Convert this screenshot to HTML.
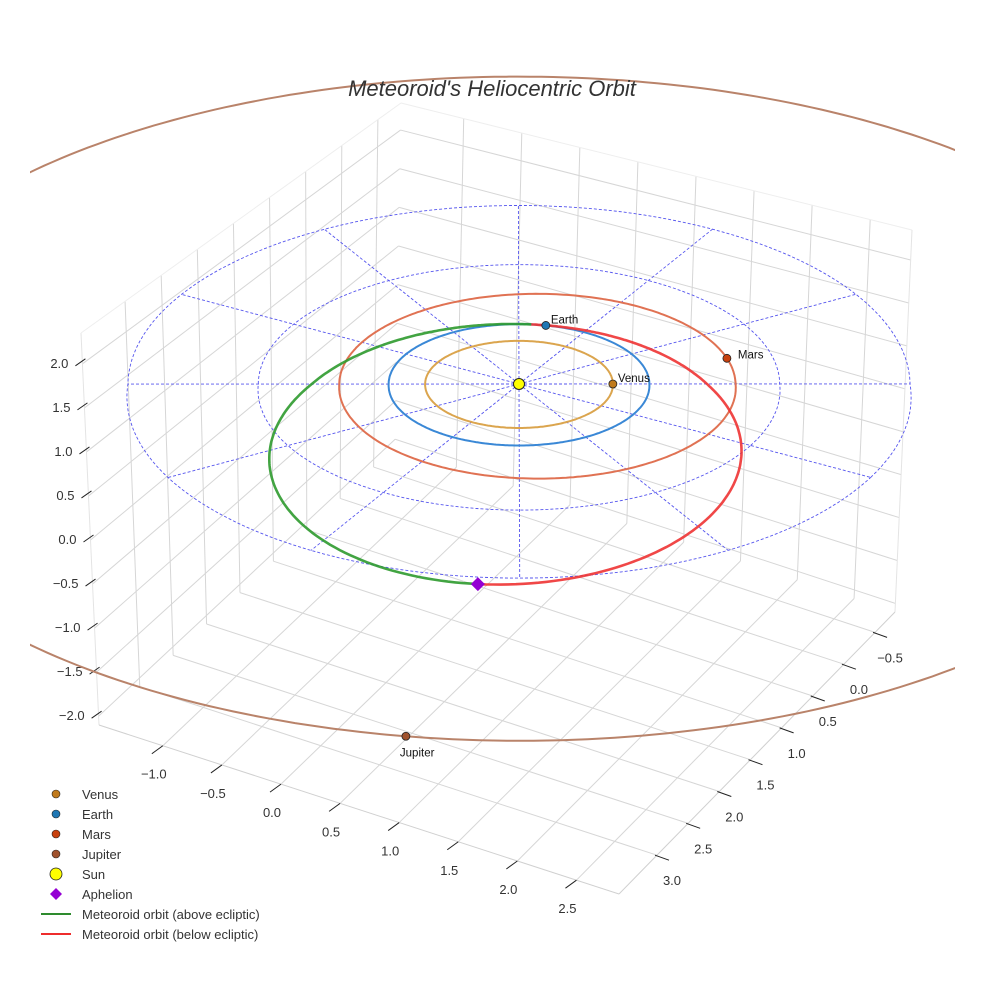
<!DOCTYPE html>
<html><head><meta charset="utf-8">
<style>
html,body{margin:0;padding:0;background:#fff;}
svg{display:block;font-family:"Liberation Sans",sans-serif;}
</style></head>
<body>
<svg id="chart" width="984" height="984" viewBox="0 0 984 984" xmlns="http://www.w3.org/2000/svg">
<defs><clipPath id="clipAx"><rect x="30" y="0" width="925" height="984"/></clipPath></defs>
<g id="box"></g>
<g id="plane" clip-path="url(#clipAx)"></g>
<text x="492" y="96" text-anchor="middle" font-size="22" font-style="italic" fill="#333">Meteoroid's Heliocentric Orbit</text>
<g id="legend"></g>
</svg>
<script>
// ---- data ----
const xTicks = [-1.0, -0.5, 0.0, 0.5, 1.0, 1.5, 2.0, 2.5];
const yTicks = [-0.5, 0.0, 0.5, 1.0, 1.5, 2.0, 2.5, 3.0];
const zTicks = [-2.0, -1.5, -1.0, -0.5, 0.0, 0.5, 1.0, 1.5, 2.0];
const xRange = [-1.54, 2.86];
const yRange = [-0.82, 3.61];
const zRange = [-2.1, 2.35];
const planetNames = ["Venus", "Earth", "Mars", "Jupiter"];
const planetRadii = [0.72, 1.0, 1.52, 5.2];
const planetEcc = [0.0, 0.0, 0.093, 0.0];
const planetPeri = [0, 0, 208, 0];
const planetAngles = [30, 108, 45, -68.5];
const gridRadii = [1, 2, 3];
const gridSpokes = [0, 30, 60, 90, 120, 150, 180, 210, 240, 270, 300, 330];
const meteorPerihelion = [1.0];
const meteorAphelion = [3.1];
const meteorOmega = [114.5];

const NS = "http://www.w3.org/2000/svg";
function mk(tag, attrs, parent){const e=document.createElementNS(NS,tag);for(const k in attrs)e.setAttribute(k,attrs[k]);parent.appendChild(e);return e;}

// ---- box (trilinear through measured corners) ----
const C = {
 "000":[395,447],"001":[401,103],"010":[99,725],"011":[81,333],
 "100":[895,612],"101":[912,230],"110":[619,894],"111":[619,500]};
function tri(u,v,w){let X=0,Y=0;for(const a of [0,1])for(const b of [0,1])for(const c of [0,1]){const wt=(a?u:1-u)*(b?v:1-v)*(c?w:1-w);const p=C[""+a+b+c];X+=wt*p[0];Y+=wt*p[1];}return [X,Y];}
const U=x=>(x-xRange[0])/(xRange[1]-xRange[0]);
const V=y=>(y-yRange[0])/(yRange[1]-yRange[0]);
const W=z=>(z-zRange[0])/(zRange[1]-zRange[0]);
const box=document.getElementById("box");
function seg(p,q,st,sw,parent,name){const l=mk("line",{x1:p[0],y1:p[1],x2:q[0],y2:q[1],stroke:st,"stroke-width":sw},parent);return l;}
const gc="#d6d6d6";
yTicks.forEach(y=>seg(tri(0,V(y),0),tri(0,V(y),1),gc,1,box,"left-wall-gridline"));
zTicks.forEach(z=>{seg(tri(0,0,W(z)),tri(0,1,W(z)),gc,1,box,"left-wall-gridline");seg(tri(0,0,W(z)),tri(1,0,W(z)),gc,1,box,"right-wall-gridline");});
xTicks.forEach(x=>seg(tri(U(x),0,0),tri(U(x),0,1),gc,1,box,"right-wall-gridline"));
xTicks.forEach(x=>seg(tri(U(x),0,0),tri(U(x),1,0),gc,1,box,"floor-gridline"));
yTicks.forEach(y=>seg(tri(0,V(y),0),tri(1,V(y),0),gc,1,box,"floor-gridline"));
const ec="#e4e4e4";
seg(tri(0,1,0),tri(0,1,1),ec,1,box,"pane-edge");
seg(tri(0,1,1),tri(0,0,1),"#eeeeee",1,box,"pane-edge");
seg(tri(0,0,1),tri(1,0,1),"#eeeeee",1,box,"pane-edge");
seg(tri(1,0,1),tri(1,0,0),ec,1,box,"pane-edge");
seg(tri(0,1,0),tri(1,1,0),"#d0d0d0",1,box,"floor-edge");
seg(tri(1,1,0),tri(1,0,0),"#d0d0d0",1,box,"floor-edge");
const fmt=t=>(t<0?"\u2212":"")+Math.abs(t).toFixed(1);
xTicks.forEach(x=>{const p=tri(U(x),1,0);seg([p[0],p[1]],[p[0]-11,p[1]+8],"#222",1,box,"x-tick");
 const t=mk("text",{x:p[0]-9,y:p[1]+33,"text-anchor":"middle","font-size":13,fill:"#333"},box);t.textContent=fmt(x);
 });
yTicks.forEach(y=>{const p=tri(1,V(y),0);seg([p[0]-2,p[1]],[p[0]+12,p[1]+5],"#222",1,box,"y-tick");
 const t=mk("text",{x:p[0]+15,y:p[1]+30,"text-anchor":"middle","font-size":13,fill:"#333"},box);t.textContent=fmt(y);
 });
zTicks.forEach(z=>{const p=tri(0,1,W(z));seg([p[0]+3,p[1]-5],[p[0]-7,p[1]+2],"#222",1,box,"z-tick");
 const t=mk("text",{x:p[0]-14,y:p[1]+4,"text-anchor":"end","font-size":13,fill:"#333"},box);t.textContent=fmt(z);
 });

// ---- ecliptic plane projection ----
const SX=519, SY=384;
function proj(x,y){const X=x*113+y*65, Y=x*30-y*52; const k=Y>0?0.0004:0.00005; const f=1/(1-k*Y); return [SX+X*f, SY+Y*f];}
function polar(r,deg){const t=deg*Math.PI/180;return proj(r*Math.cos(t),r*Math.sin(t));}
const plane=document.getElementById("plane");
function pathFrom(pts){return pts.map((p,i)=>(i?"L":"M")+p[0].toFixed(1)+","+p[1].toFixed(1)).join("");}
function orbitR(a,e,peri,deg){return a*(1-e*e)/(1+e*Math.cos((deg-peri)*Math.PI/180));}
function orbitPts(a,e,peri){const o=[];for(let d=0;d<=360;d+=1)o.push(polar(orbitR(a,e,peri,d),d));return o;}
gridRadii.forEach(r=>{const e=mk("path",{d:pathFrom(orbitPts(r,0,0)),fill:"none",stroke:"#5555ee","stroke-width":0.9,"stroke-dasharray":"3,2"},plane);
 });
gridSpokes.forEach(a=>{const e=mk("path",{d:pathFrom([polar(0,a),polar(gridRadii[gridRadii.length-1],a)]),fill:"none",stroke:"#5555ee","stroke-width":0.9,"stroke-dasharray":"3,2"},plane);
 });
const orbitColors=["#dba54e","#3a88d6","#e07253","#b9836a"];
planetRadii.forEach((r,i)=>{const e=mk("path",{d:pathFrom(orbitPts(r,planetEcc[i],planetPeri[i])),fill:"none",stroke:orbitColors[i],"stroke-width":2},plane);
 });
const q=meteorPerihelion[0],Q=meteorAphelion[0],om=meteorOmega[0];
const a=(q+Q)/2, ecc=(Q-q)/(Q+q);
function mpt(nu){const r=a*(1-ecc*ecc)/(1+ecc*Math.cos(nu*Math.PI/180));return polar(r,om+nu);}
const up=[],dn=[];for(let n=0;n<=180;n+=1)up.push(mpt(n));for(let n=180;n<=360;n+=1)dn.push(mpt(n));
const g1=mk("path",{d:pathFrom(up),fill:"none",stroke:"#2e9a2e","stroke-width":2.6,"stroke-opacity":0.9},plane);

const g2=mk("path",{d:pathFrom(dn),fill:"none",stroke:"#ee3333","stroke-width":2.6,"stroke-opacity":0.9},plane);

const planetColors=["#c07a1c","#1f77b4","#c8410e","#a0522d"];
planetRadii.forEach((r,i)=>{const p=polar(orbitR(r,planetEcc[i],planetPeri[i],planetAngles[i]),planetAngles[i]);
 const c=mk("circle",{cx:p[0],cy:p[1],r:4,fill:planetColors[i],stroke:"#222","stroke-width":0.8},plane);
 
 const isJ=planetNames[i]==="Jupiter";
 const dx=planetNames[i]==="Mars"?11:5;
 const t=mk("text",{x:isJ?p[0]-6:p[0]+dx,y:isJ?p[1]+20:p[1]-2+(planetNames[i]==="Mars"?2:0),"font-size":11.5,fill:"#111"},plane);t.textContent=planetNames[i];
 });
const sun=mk("circle",{cx:SX,cy:SY,r:5.5,fill:"#ffff00",stroke:"#222","stroke-width":1},plane);

const ap=mpt(180);
const apd=mk("path",{d:`M${ap[0]},${ap[1]-7}L${ap[0]+7},${ap[1]}L${ap[0]},${ap[1]+7}L${ap[0]-7},${ap[1]}Z`,fill:"#9400d3"},plane);


// ---- legend ----
const lg=document.getElementById("legend");
const legendLabels=["Venus","Earth","Mars","Jupiter","Sun","Aphelion","Meteoroid orbit (above ecliptic)","Meteoroid orbit (below ecliptic)"];
legendLabels.forEach((lab,i)=>{const y=794+i*20;
 let m;
 if(i<4){m=mk("circle",{cx:56,cy:y,r:4,fill:planetColors[i],stroke:"#222","stroke-width":0.6},lg);}
 else if(i===4){m=mk("circle",{cx:56,cy:y,r:6,fill:"#ffff00",stroke:"#222","stroke-width":0.8},lg);}
 else if(i===5){m=mk("path",{d:`M56,${y-6}L62,${y}L56,${y+6}L50,${y}Z`,fill:"#9400d3"},lg);}
 else {m=mk("line",{x1:41,y1:y,x2:71,y2:y,stroke:i===6?"#2e8b2e":"#ee2c2c","stroke-width":2},lg);}
 
 const t=mk("text",{x:82,y:y+5,"font-size":13,fill:"#333"},lg);t.textContent=lab;
 });
</script>
</body></html>
